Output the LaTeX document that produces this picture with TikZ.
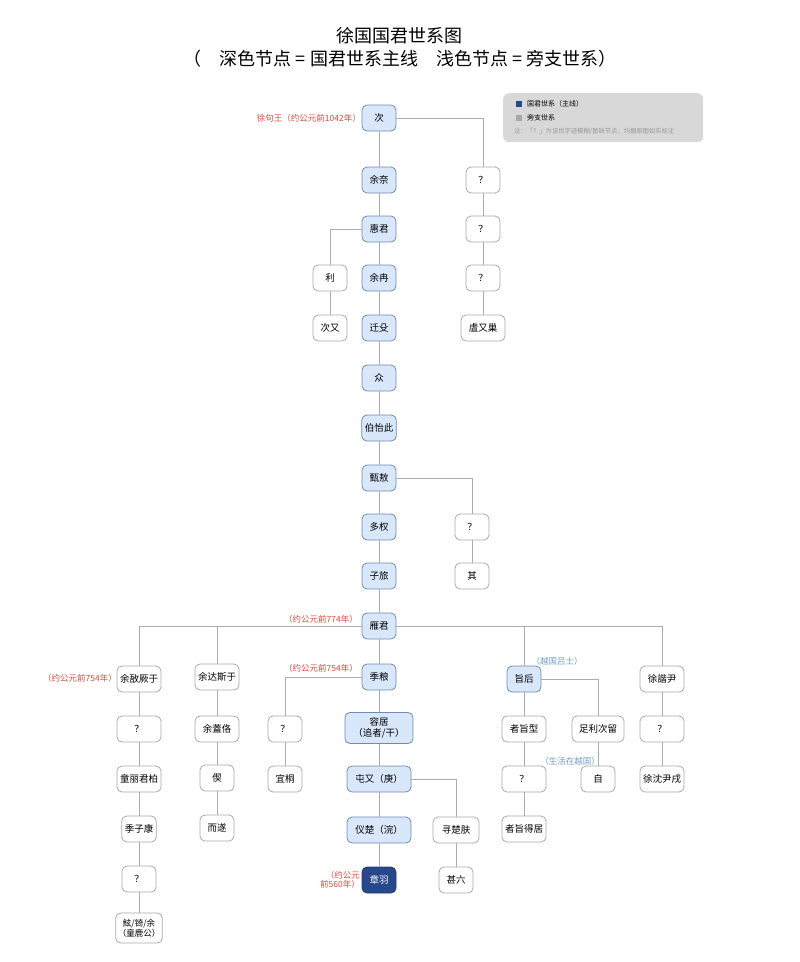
\documentclass[tikz,border=0pt]{standalone}
\usepackage{fontspec}
\setmainfont{Noto Sans CJK SC}
\definecolor{mainf}{HTML}{D9E7FB}
\definecolor{mainb}{HTML}{6F8AB3}
\definecolor{topf}{HTML}{27488A}
\definecolor{topb}{HTML}{1E3A73}
\definecolor{sideb}{HTML}{A8A8A8}
\definecolor{linec}{HTML}{A9ADB3}
\definecolor{redc}{HTML}{E0473F}
\definecolor{bluec}{HTML}{6E9BD2}
\definecolor{legf}{HTML}{D8D8D8}
\begin{document}
\begin{tikzpicture}[x=1pt,y=-1pt,
  base/.style={rounded corners=5pt, minimum width=34pt, minimum height=26pt, inner sep=3pt,
               font=\fontsize{9.5}{11.5}\selectfont, align=center, line width=0.8pt},
  mainn/.style={base, draw=mainb, fill=mainf},
  siden/.style={base, draw=sideb, fill=white},
  topn/.style={base, draw=topb, fill=topf, text=white},
  ln/.style={draw=linec, line width=0.9pt},
  redlab/.style={text=redc, font=\fontsize{8.5}{9.5}\selectfont, inner sep=0pt, align=right},
  bluelab/.style={text=bluec, font=\fontsize{8.5}{9.5}\selectfont, inner sep=0pt},
]
\useasboundingbox (0,0) rectangle (800,962);

% title
\node[font=\fontsize{18}{21}\selectfont] (title) at (399,36) {徐国国君世系图};
\node[font=\fontsize{18}{21}\selectfont] (sub) at (400,59) {（\hspace{1em}深色节点 = 国君世系主线\hspace{1em}浅色节点 = 旁支世系）};

% legend
\node[draw=none, fill=legf, rounded corners=6pt, minimum width=200pt, minimum height=49pt, anchor=north west] (leg) at (503,93) {};
\node[fill=topf, minimum size=6pt, inner sep=0pt] (lsq1) at (519,104) {};
\node[anchor=west, font=\fontsize{7}{8}\selectfont, inner sep=0pt] (lt1) at (527,104) {国君世系（主线）};
\node[fill=sideb, minimum size=6pt, inner sep=0pt] (lsq2) at (519,117.5) {};
\node[anchor=west, font=\fontsize{7}{8}\selectfont, inner sep=0pt] (lt2) at (527,117.5) {旁支世系};
\node[anchor=west, font=\fontsize{6.3}{7}\selectfont, inner sep=0pt, text=gray!80] (lt3) at (514,131) {注：「？」为该世字迹模糊/暂缺节点，均据原图如实标注};

% main line
\node[mainn] (m1) at (379,118) {次};
\node[mainn] (m2) at (379,180) {余奈};
\node[mainn] (m3) at (379,229) {惠君};
\node[mainn] (m4) at (379,278) {余冉};
\node[mainn] (m5) at (379,328) {迁殳};
\node[mainn] (m6) at (379,378) {众};
\node[mainn] (m7) at (379,428) {伯怡此};
\node[mainn] (m8) at (379,478) {甄敖};
\node[mainn] (m9) at (379,527) {多权};
\node[mainn] (m10) at (379,576) {子旅};
\node[mainn] (m11) at (379,626) {雁君};
\node[mainn] (m12) at (379,677) {季粮};
\node[mainn, minimum width=68pt, minimum height=31pt] (m13) at (379,728) {容居\\（追者/干）};
\node[mainn, minimum width=64pt] (m14) at (379,779) {屯又（庚）};
\node[mainn, minimum width=64pt] (m15) at (379,830) {仪楚（浣）};
\node[topn] (m16) at (379,880) {章羽};

% branch from 次
\node[siden] (r1) at (483,180) {？};
\node[siden] (r2) at (483,229) {？};
\node[siden] (r3) at (483,278) {？};
\node[siden, minimum width=44pt] (r4) at (483,328) {虘又巢};

% branch from 惠君
\node[siden] (l1) at (330,278) {利};
\node[siden] (l2) at (330,328) {次又};

% branch from 甄敖
\node[siden] (z1) at (472,527) {？};
\node[siden] (z2) at (472,576) {其};

% branches from 雁君
\node[siden, minimum width=44pt] (a1) at (139,679) {余敔厥于};
\node[siden, minimum width=44pt] (a2) at (139,729) {？};
\node[siden, minimum width=44pt] (a3) at (139,779) {童丽君柏};
\node[siden] (a4) at (139,829) {季子康};
\node[siden] (a5) at (139,879) {？};
\node[siden, minimum height=30pt, font=\fontsize{8.5}{10}\selectfont, inner sep=2pt] (a6) at (139,928) {鮌/锜/余\\（童鹿公）};

\node[siden, minimum width=44pt] (b1) at (217,677) {余达斯于};
\node[siden, minimum width=44pt] (b2) at (217,729) {余蓋佫};
\node[siden] (b3) at (217,778) {偰};
\node[siden] (b4) at (217,828) {而遂};

\node[mainn] (c1) at (524,679) {旨后};
\node[siden, minimum width=44pt] (c2) at (524,729) {者旨型};
\node[siden, minimum width=44pt] (c3) at (524,779) {？};
\node[siden, minimum width=44pt] (c4) at (524,829) {者旨得居};
\node[siden, minimum width=52pt] (c5) at (598,729) {足利次留};
\node[siden] (c6) at (598,779) {自};

\node[siden, minimum width=44pt] (d1) at (662,679) {徐諧尹};
\node[siden, minimum width=44pt] (d2) at (662,729) {？};
\node[siden, minimum width=44pt] (d3) at (662,779) {徐沈尹戌};

% branch from 季粮
\node[siden] (e1) at (285,729) {？};
\node[siden] (e2) at (285,779) {宜桐};

% branch from 屯又
\node[siden, minimum width=46pt] (f1) at (456,830) {寻楚肤};
\node[siden] (f2) at (456,880) {甚六};

% connectors: main line
\foreach \a/\b in {m1/m2,m2/m3,m3/m4,m4/m5,m5/m6,m6/m7,m7/m8,m8/m9,m9/m10,m10/m11,m11/m12,m12/m13,m13/m14,m14/m15,m15/m16}
  \draw[ln] (\a) -- (\b);
\draw[ln] (m1.east) -| (r1.north);
\draw[ln] (r1) -- (r2); \draw[ln] (r2) -- (r3); \draw[ln] (r3) -- (r4);
\draw[ln] (m3.west) -| (l1.north);
\draw[ln] (l1) -- (l2);
\draw[ln] (m8.east) -| (z1.north);
\draw[ln] (z1) -- (z2);
\draw[ln] (m11.west) -| (a1.north);
\draw[ln] (m11.west) -| (b1.north);
\draw[ln] (m11.east) -| (c1.north);
\draw[ln] (m11.east) -| (d1.north);
\draw[ln] (a1) -- (a2); \draw[ln] (a2) -- (a3); \draw[ln] (a3) -- (a4); \draw[ln] (a4) -- (a5); \draw[ln] (a5) -- (a6);
\draw[ln] (b1) -- (b2); \draw[ln] (b2) -- (b3); \draw[ln] (b3) -- (b4);
\draw[ln] (c1) -- (c2); \draw[ln] (c2) -- (c3); \draw[ln] (c3) -- (c4);
\draw[ln] (c1.east) -| (c5.north);
\draw[ln] (c5) -- (c6);
\draw[ln] (d1) -- (d2); \draw[ln] (d2) -- (d3);
\draw[ln] (m12.west) -| (e1.north);
\draw[ln] (e1) -- (e2);
\draw[ln] (m14.east) -| (f1.north);
\draw[ln] (f1) -- (f2);

% labels
\node[redlab, anchor=east] (t1) at (361,118) {徐句王（约公元前1042年）};
\node[redlab, anchor=east] (t2) at (358,619) {（约公元前774年）};
\node[redlab, anchor=east] (t3) at (117,678) {（约公元前754年）};
\node[redlab, anchor=east] (t4) at (358,668) {（约公元前754年）};
\node[redlab, anchor=east, font=\fontsize{8.5}{8.5}\selectfont] (t5) at (360,880) {（约公元\\前560年）};
\node[bluelab] (t6) at (557,661) {（越国吕士）};
\node[bluelab] (t7) at (570,761) {（生活在越国）};
\end{tikzpicture}
\end{document}
